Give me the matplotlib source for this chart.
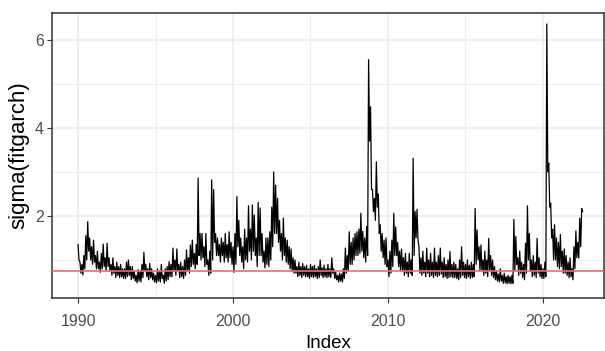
import numpy as np
from matplotlib import pyplot as plt

# sigma in 1/8-year bins starting 1990.0:
# upper and lower edge of the daily band in each bin
start_year = 1990.0
bins_per_year = 8
sigma_hi = [
    [1.35, 0.95, 0.90, 1.10, 1.55, 1.87, 1.50, 1.30],  # 1990
    [1.45, 1.10, 1.20, 0.95, 1.15, 1.36, 1.05, 1.38],  # 1991
    [1.05, 0.90, 1.05, 0.85, 0.95, 0.85, 0.90, 0.80],  # 1992
    [0.80, 0.95, 1.00, 0.85, 0.85, 0.75, 0.65, 0.78],  # 1993
    [0.75, 0.90, 1.17, 0.90, 0.80, 0.92, 0.80, 0.70],  # 1994
    [0.65, 0.80, 0.75, 0.90, 0.65, 0.80, 0.85, 0.96],  # 1995
    [0.90, 1.27, 1.00, 1.25, 0.90, 0.95, 0.85, 1.00],  # 1996
    [1.23, 1.05, 1.34, 1.45, 1.15, 1.35, 2.86, 1.60],  # 1997
    [1.60, 1.30, 1.60, 1.00, 1.20, 2.82, 2.60, 1.60],  # 1998
    [1.50, 1.35, 1.50, 1.40, 1.60, 1.35, 1.64, 1.40],  # 1999
    [1.30, 1.60, 2.44, 1.90, 1.50, 1.30, 1.70, 1.50],  # 2000
    [2.23, 1.70, 2.25, 2.02, 1.50, 2.31, 2.18, 1.60],  # 2001
    [1.20, 1.50, 1.50, 1.64, 2.20, 3.00, 2.70, 2.40],  # 2002
    [1.90, 1.60, 1.95, 1.50, 1.45, 1.30, 1.25, 1.05],  # 2003
    [1.00, 0.85, 0.95, 0.85, 0.92, 0.85, 0.88, 0.80],  # 2004
    [0.90, 0.85, 0.88, 0.80, 0.85, 1.00, 0.82, 0.88],  # 2005
    [0.80, 0.90, 0.80, 1.05, 0.80, 0.72, 0.65, 0.70],  # 2006
    [0.68, 0.80, 1.27, 1.10, 1.64, 1.40, 1.50, 1.60],  # 2007
    [1.64, 1.70, 2.06, 1.65, 1.50, 1.76, 5.55, 4.48],  # 2008
    [2.60, 2.40, 3.23, 2.50, 1.80, 1.60, 1.45, 1.50],  # 2009
    [1.00, 1.20, 1.45, 2.06, 1.75, 1.40, 1.20, 1.25],  # 2010
    [1.05, 1.15, 0.95, 1.15, 1.00, 3.31, 2.10, 2.15],  # 2011
    [1.30, 1.05, 1.20, 0.95, 1.27, 1.00, 1.15, 0.95],  # 2012
    [1.27, 0.95, 1.10, 1.27, 0.95, 1.05, 0.90, 1.00],  # 2013
    [1.19, 0.90, 0.95, 0.90, 0.80, 1.00, 1.30, 0.95],  # 2014
    [0.90, 1.00, 0.88, 0.95, 0.90, 2.17, 1.68, 1.30],  # 2015
    [1.34, 1.00, 1.20, 1.00, 1.49, 1.10, 1.00, 0.85],  # 2016
    [0.75, 0.68, 0.80, 0.65, 0.70, 0.62, 0.65, 0.62],  # 2017
    [0.65, 1.92, 1.53, 1.05, 1.20, 0.95, 0.90, 1.38],  # 2018
    [2.23, 1.60, 1.00, 1.10, 0.95, 1.49, 1.05, 0.90],  # 2019
    [0.80, 0.95, 6.36, 3.20, 2.29, 1.70, 1.80, 1.50],  # 2020
    [1.40, 1.58, 1.20, 1.25, 1.10, 0.95, 1.05, 0.80],  # 2021
    [1.30, 1.66, 1.40, 1.95, 2.17],                    # 2022
]
sigma_lo = [
    [1.00, 0.70, 0.66, 0.80, 1.00, 1.20, 1.00, 0.90],  # 1990
    [0.95, 0.80, 0.80, 0.72, 0.80, 0.85, 0.75, 0.85],  # 1991
    [0.75, 0.65, 0.70, 0.60, 0.65, 0.60, 0.62, 0.58],  # 1992
    [0.58, 0.62, 0.65, 0.55, 0.58, 0.52, 0.48, 0.52],  # 1993
    [0.50, 0.60, 0.75, 0.62, 0.55, 0.60, 0.55, 0.50],  # 1994
    [0.48, 0.52, 0.50, 0.58, 0.47, 0.52, 0.55, 0.62],  # 1995
    [0.62, 0.75, 0.65, 0.75, 0.60, 0.62, 0.58, 0.65],  # 1996
    [0.75, 0.70, 0.85, 0.90, 0.80, 0.90, 1.10, 1.00],  # 1997
    [1.05, 0.85, 0.90, 0.65, 0.70, 1.00, 1.40, 1.10],  # 1998
    [1.10, 0.95, 1.10, 0.95, 1.05, 0.95, 1.05, 0.90],  # 1999
    [0.72, 0.90, 1.30, 1.10, 0.95, 0.80, 1.00, 0.95],  # 2000
    [1.20, 1.00, 1.20, 1.10, 0.85, 1.10, 1.10, 0.95],  # 2001
    [0.82, 0.90, 0.85, 1.00, 1.30, 1.60, 1.60, 1.40],  # 2002
    [1.20, 1.00, 1.10, 0.95, 0.90, 0.80, 0.75, 0.70],  # 2003
    [0.70, 0.62, 0.65, 0.60, 0.65, 0.62, 0.62, 0.58],  # 2004
    [0.62, 0.60, 0.62, 0.58, 0.60, 0.65, 0.60, 0.62],  # 2005
    [0.60, 0.62, 0.60, 0.70, 0.58, 0.55, 0.50, 0.52],  # 2006
    [0.50, 0.58, 0.70, 0.75, 0.90, 0.90, 1.00, 1.10],  # 2007
    [1.10, 1.15, 1.20, 1.05, 0.95, 1.10, 3.70, 2.60],  # 2008
    [2.10, 1.90, 2.20, 1.60, 1.20, 1.05, 0.90, 0.85],  # 2009
    [0.62, 0.70, 0.85, 1.10, 1.10, 0.85, 0.75, 0.75],  # 2010
    [0.65, 0.70, 0.62, 0.70, 0.65, 1.10, 1.50, 1.45],  # 2011
    [0.70, 0.65, 0.70, 0.62, 0.70, 0.62, 0.65, 0.60],  # 2012
    [0.65, 0.62, 0.65, 0.68, 0.60, 0.62, 0.58, 0.60],  # 2013
    [0.62, 0.60, 0.60, 0.58, 0.55, 0.60, 0.65, 0.60],  # 2014
    [0.58, 0.62, 0.58, 0.60, 0.62, 0.90, 1.00, 0.75],  # 2015
    [0.75, 0.65, 0.70, 0.62, 0.75, 0.65, 0.60, 0.55],  # 2016
    [0.52, 0.50, 0.52, 0.47, 0.48, 0.46, 0.47, 0.46],  # 2017
    [0.47, 0.75, 0.90, 0.65, 0.70, 0.60, 0.55, 0.70],  # 2018
    [1.00, 0.75, 0.62, 0.65, 0.60, 0.70, 0.62, 0.58],  # 2019
    [0.58, 0.62, 3.00, 2.20, 1.50, 1.00, 1.00, 0.85],  # 2020
    [0.80, 0.85, 0.70, 0.70, 0.65, 0.60, 0.62, 0.55],  # 2021
    [0.80, 1.05, 1.04, 1.30, 2.10],                    # 2022
]
hline_value = 0.75

hi = np.concatenate([np.array(r) for r in sigma_hi])
lo = np.concatenate([np.array(r) for r in sigma_lo])
# each bin: upper edge at its start, lower edge half a bin later
sigma = np.column_stack([hi, lo]).ravel()
years = start_year + np.arange(len(sigma)) / (2 * bins_per_year)

plt.close('all')
plt.rcParams["font.family"] = "Liberation Sans"

fig = plt.figure(figsize=(6.05, 3.51), dpi=100)
ax = fig.add_axes([52/605, 1 - 298/351, 552/605, 285/351])

ax.plot(years, sigma, color='black', linewidth=0.9, zorder=3)
ax.axhline(hline_value, color='#F26B6B', linewidth=1.2, zorder=4)

ax.set_xlim(1988.32, 2023.94)
ax.set_ylim(0.136, 6.61)

# theme_bw style grid
ax.set_xticks([1990, 2000, 2010, 2020])
ax.set_xticks([1995, 2005, 2015], minor=True)
ax.set_yticks([2, 4, 6])
ax.set_yticks([1, 3, 5], minor=True)
ax.grid(which='major', color='#EBEBEB', linewidth=1.1, zorder=0)
ax.grid(which='minor', color='#EBEBEB', linewidth=0.6, zorder=0)
ax.set_axisbelow(True)

for s in ax.spines.values():
    s.set_color('#333333')
    s.set_linewidth(1.1)

ax.tick_params(which='major', length=3.5, width=0.8, color='#333333',
               labelcolor='#4D4D4D', labelsize=11.5)
ax.tick_params(axis='x', pad=8)
ax.tick_params(axis='y', pad=2.5)
ax.tick_params(which='minor', length=0)

ax.set_xlabel('Index', fontsize=13.5, labelpad=4)
ax.set_ylabel('sigma(fitgarch)', fontsize=16, labelpad=4)

plt.savefig('out.png', dpi=100)
